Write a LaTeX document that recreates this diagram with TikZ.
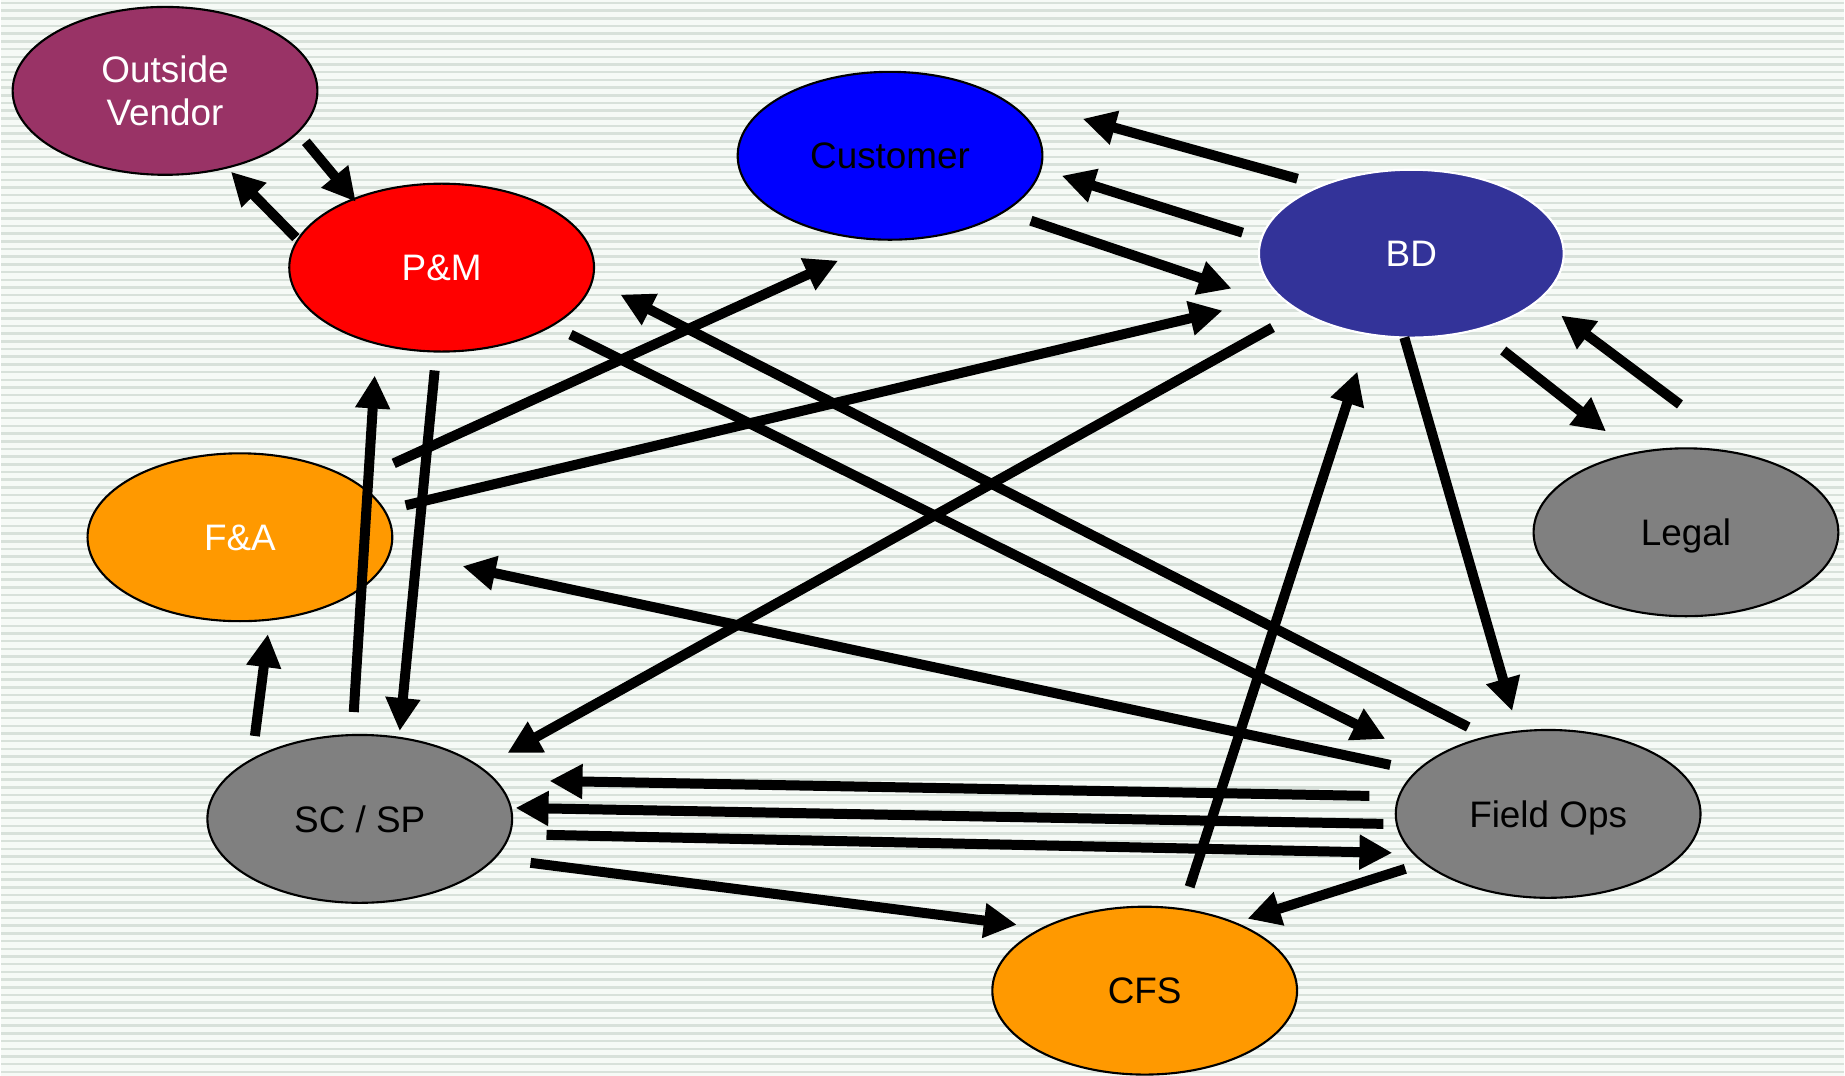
\documentclass[tikz,border=0pt]{standalone}
\usepackage{fontspec}
\setmainfont{Liberation Sans}
\usetikzlibrary{arrows.meta}
\usetikzlibrary{shapes.geometric}
\definecolor{bgcol}{RGB}{246,250,246}
\definecolor{stripecol}{RGB}{216,225,218}
\definecolor{vendorcol}{RGB}{153,51,102}
\definecolor{bdcol}{RGB}{51,51,153}
\definecolor{orangecol}{RGB}{255,153,0}
\definecolor{greycol}{RGB}{128,128,128}
\tikzset{%
  myedge/.style={-{Triangle[length=0.33cm, width=0.33cm]}, line width=0.1cm},
  mynode/.style={ellipse, draw=black, line width=0.6pt, minimum width=3.05cm,
    minimum height=1.68cm, inner sep=0pt, align=center,
    font=\fontsize{10.5}{12.5}\selectfont},
  oneline/.style={text height=7.5pt, text depth=0pt}
}

\begin{document}
\begin{tikzpicture}[x=0.01cm, y=-0.01cm]

% background
\fill [bgcol] (0,0) rectangle (1845,1077);
\foreach \y in {3,10.7,...,1077} {
  \draw [stripecol, line width=0.025cm] (0,\y) -- (1845,\y);
}

\node [mynode, fill=vendorcol, text=white] (OV) at (164,91) {Outside\\Vendor};
\node [mynode, oneline, fill=red, text=white] (PM) at (441,268) {P\&M};
\node [mynode, oneline, fill=blue] (CU) at (890,156) {Customer};
\node [mynode, oneline, fill=bdcol, draw=white, text=white] (BD) at (1412,254) {BD};
\node [mynode, oneline, fill=orangecol, text=white] (FA) at (239,538) {F\&A};
\node [mynode, oneline, fill=greycol] (LE) at (1687,533) {Legal};
\node [mynode, oneline, fill=greycol] (SC) at (359,820) {SC / SP};
\node [mynode, oneline, fill=greycol] (FO) at (1549,815) {Field Ops};
\node [mynode, oneline, fill=orangecol] (CFS) at (1145,992) {CFS};

% flows
\foreach \n / \sx / \sy / \ex / \ey in {
    PMOV/295/238/230/172, OVPM/305/142/355/202,
    BDCU1/1298/179/1083/119, BDCU2/1243/233/1062/176, CUBD/1031/221/1232/289,
    LEBD/1681/405/1562/316, BDLE/1504/351/1607/432,
    BDFO/1405/338/1513/712, CFSBD/1190/888/1358/372, BDSC/1273/328/507/754,
    FACU/393/464/838/261, FABD/405/506/1223/311,
    PMFO/570/335/1386/740, FOPM/1469/728/620/295, FOFA/1391/766/462/567,
    PMSC/434/371/399/732, SCPM/353/713/374/376, SCFA/254/737/267/635,
    FOSC1/1370/797/549/782, FOSC2/1384/825/515/809, SCFO/546/836/1393/854,
    SCCFS/530/864/1017/926, FOCFS/1406/870/1248/920} {
  \coordinate (\n-a) at (\sx,\sy);
  \coordinate (\n-b) at (\ex,\ey);
  \draw [myedge] (\n-a) -- (\n-b);
}

\end{tikzpicture}
\end{document}
